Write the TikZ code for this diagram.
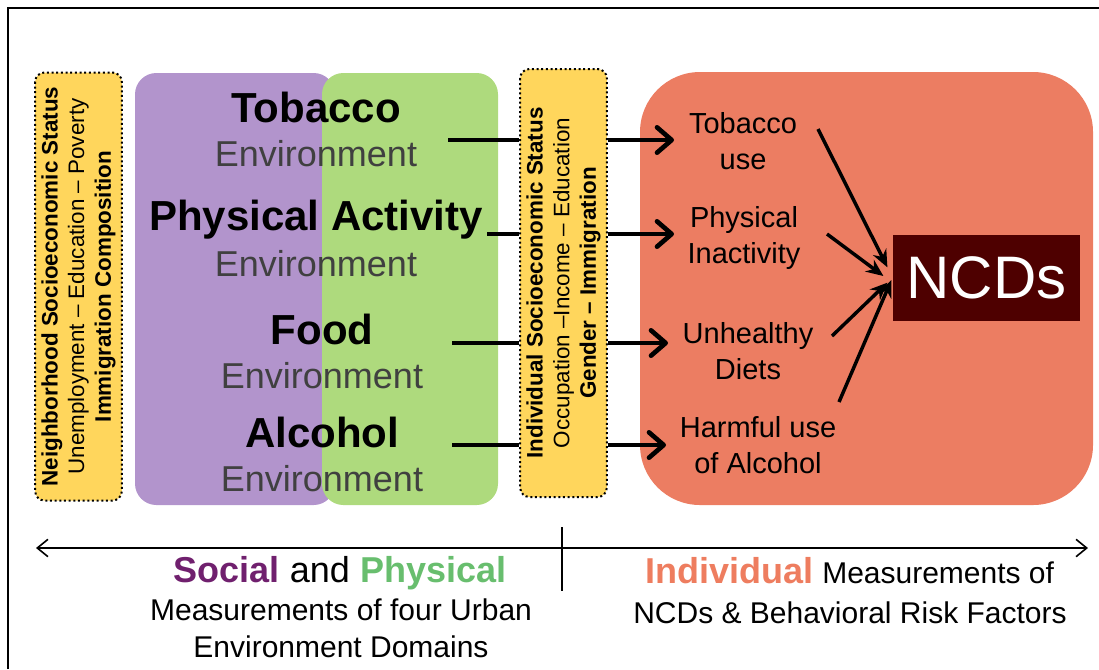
\documentclass[tikz,border=0pt]{standalone}
\usepackage{fontspec}
\setmainfont{Liberation Sans}
\usetikzlibrary{arrows.meta}
\definecolor{sesyellow}{RGB}{255,214,92}
\definecolor{socpurple}{RGB}{178,148,204}
\definecolor{phygreen}{RGB}{174,218,125}
\definecolor{indorange}{RGB}{236,125,98}
\definecolor{ncdred}{RGB}{78,0,0}
\definecolor{envgray}{RGB}{64,64,64}
\definecolor{wordpurple}{RGB}{112,32,110}
\definecolor{wordgreen}{RGB}{104,190,110}
\definecolor{wordorange}{RGB}{238,125,95}

\begin{document}
\begin{tikzpicture}[x=0.75pt,y=-0.75pt,
  ses/.style={draw,dotted,line width=1.5pt,fill=sesyellow,rounded corners=7pt,rotate=90,minimum width=321pt,minimum height=65pt,align=center,inner sep=0pt,font=\fontsize{16.8}{20}\selectfont},
  dom/.style={anchor=base,font=\fontsize{31.5}{36}\selectfont\bfseries},
  env/.style={anchor=base,text=envgray,font=\fontsize{27}{32}\selectfont},
  risk/.style={align=center,font=\fontsize{21.75}{27}\selectfont},
  note/.style={anchor=base,font=\fontsize{22.5}{28}\selectfont},
  link/.style={line width=3.5pt},
  go/.style={line width=3.5pt,-{Straight Barb[length=11pt,width=19pt,round]}},
  hit/.style={line width=2.6pt,-{Stealth[length=13pt,width=11pt]}},
  span/.style={line width=1.2pt,{Straight Barb[length=8pt,width=13pt]}-{Straight Barb[length=8pt,width=13pt]}}]
\useasboundingbox (0,0) rectangle (1099,669);
\draw[line width=1.5pt] (8,669) -- (8,8) -- (1099,8);

\fill[socpurple,rounded corners=16pt] (135,73) rectangle (335,505);
\fill[phygreen,rounded corners=16pt] (322,73) rectangle (498,505);
\fill[indorange,rounded corners=45pt] (640,72) rectangle (1093,505);

\node[ses] at (78.5,286.5) (nses) {\textbf{Neighborhood Socioeconomic Status}\\Unemployment – Education – Poverty\\\textbf{Immigration Composition}};
\node[ses] at (563.5,283) (iss) {\textbf{Individual Socioeconomic Status}\\Occupation –Income – Education\\\textbf{Gender – Immigration}};

\node[dom] at (316,122) (tob) {Tobacco};
\node[env] at (316,166) (tobenv) {Environment};
\node[dom] at (316,230) (pa) {Physical Activity};
\node[env] at (316,276) (paenv) {Environment};
\node[dom] at (322,344) (food) {Food};
\node[env] at (322,388) (foodenv) {Environment};
\node[dom] at (322,447) (alc) {Alcohol};
\node[env] at (322,491) (alcenv) {Environment};

\node[risk] at (743,141) (tobuse) {Tobacco\\use};
\node[risk] at (744,238) (inact) {Physical\\Inactivity};
\node[risk] at (748,351) (diet) {Unhealthy\\Diets};
\node[risk] at (758,445) (harm) {Harmful use\\of Alcohol};

\node[fill=ncdred,text=white,minimum width=140.25pt,minimum height=64.5pt,font=\fontsize{45}{54}\selectfont] at (986.5,278) (ncd) {NCDs};

\coordinate (l1) at (448,140);
\coordinate (l2) at (487,234);
\coordinate (l3) at (452,343);
\coordinate (l4) at (452,445);
\coordinate (r1) at (674,140);
\coordinate (r2) at (674,234);
\coordinate (r3) at (668,343);
\coordinate (r4) at (666,445);
\draw[link] (l1) -- (l1 -| iss.north);
\draw[link] (l2) -- (l2 -| iss.north);
\draw[link] (l3) -- (l3 -| iss.north);
\draw[link] (l4) -- (l4 -| iss.north);
\draw[go] (r1 -| iss.south) -- (r1);
\draw[go] (r2 -| iss.south) -- (r2);
\draw[go] (r3 -| iss.south) -- (r3);
\draw[go] (r4 -| iss.south) -- (r4);

\coordinate (s1) at (818,129);
\coordinate (s2) at (827,234);
\coordinate (s3) at (832,336);
\coordinate (s4) at (839,402);
\draw[hit] (s1) -- ([xshift=-4pt,yshift=8pt]ncd.west);
\draw[hit] (s2) -- ([xshift=-7pt,yshift=1.5pt]ncd.west);
\draw[hit] (s3) -- ([xshift=-4pt,yshift=-3.5pt]ncd.west);
\draw[hit] (s4) -- ([xshift=-1pt,yshift=-1.5pt]ncd.west);

\coordinate (al) at (36,548);
\coordinate (ar) at (1088,548);
\coordinate (tt) at (562,527);
\coordinate (tb) at (562,591);
\draw[span] (al) -- (ar);
\draw[line width=1pt] (tt) -- (tb);

\node[anchor=base,font=\fontsize{27}{32}\selectfont] at (340,582) (soc) {\textcolor{wordpurple}{\bfseries Social} and \textcolor{wordgreen}{\bfseries Physical}};
\node[note] at (341,620) (meas) {Measurements of four Urban};
\node[note] at (341,657) (urb) {Environment Domains};
\node[note] at (850,583) (ind) {{\fontsize{27}{32}\selectfont\bfseries\color{wordorange}Individual} Measurements of};
\node[note] at (850,623) (risks) {NCDs \& Behavioral Risk Factors};
\end{tikzpicture}
\end{document}
